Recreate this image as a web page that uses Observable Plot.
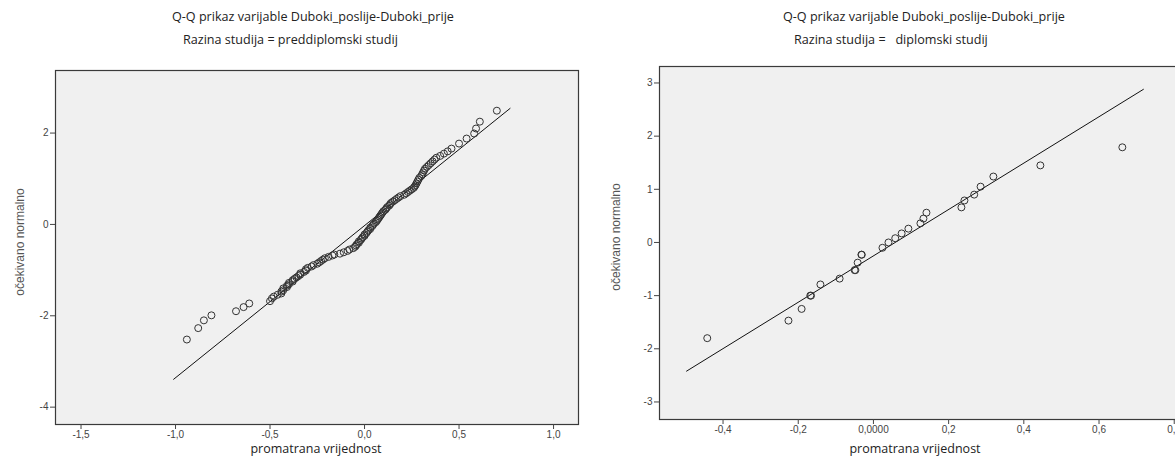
<!DOCTYPE html>
<html><head><meta charset="utf-8">
<script src="https://cdn.jsdelivr.net/npm/d3@7"></script>
<script src="https://cdn.jsdelivr.net/npm/@observablehq/plot@0.6"></script>
<style>
html,body{margin:0;padding:0;width:1175px;height:459px;overflow:hidden;background:#fff;}
#root{position:relative;width:1175px;height:459px;overflow:hidden;}
.t{position:absolute;font-family:"Open Sans",sans-serif;font-size:12.6px;color:#222;white-space:pre;line-height:1;}
.xl{position:absolute;font-family:"Open Sans",sans-serif;font-size:12.5px;color:#222;white-space:pre;line-height:1;transform:translateX(-50%);}
.yl{position:absolute;font-family:"Liberation Sans",Arial,sans-serif;font-size:12px;color:#555;white-space:pre;line-height:1;transform:translate(-50%,-50%) rotate(-90deg);}
.panel{position:absolute;}
</style></head>
<body><div id="root"></div>
<script>
// ---- data ----
const titleText = "Q-Q prikaz varijable Duboki_poslije-Duboki_prije";
const subtitleLeft = "Razina studija = preddiplomski studij";
const subtitleRight = "Razina studija =   diplomski studij";
const xAxisTitle = "promatrana vrijednost";
const yAxisTitle = "očekivano normalno";

// Panel 1: preddiplomski studij
const preddiplomskiObserved = [
 -0.94,-0.88,-0.85,-0.81,-0.68,-0.64,-0.61,-0.50,-0.49,-0.48,
 -0.46,-0.44,-0.44,-0.43,-0.43,-0.41,-0.41,-0.40,-0.40,-0.38,
 -0.38,-0.37,-0.36,-0.35,-0.34,-0.34,-0.32,-0.31,-0.31,-0.30,
 -0.28,-0.27,-0.25,-0.24,-0.23,-0.22,-0.21,-0.19,-0.17,-0.16,
 -0.13,-0.11,-0.09,-0.08,-0.06,-0.05,-0.045,-0.04,-0.03,-0.03,
 -0.02,-0.015,-0.01,0.00,0.00,0.01,0.015,0.02,0.03,0.03,
 0.04,0.045,0.05,0.06,0.065,0.07,0.075,0.08,0.085,0.09,
 0.095,0.10,0.11,0.115,0.12,0.13,0.135,0.14,0.15,0.16,
 0.17,0.18,0.19,0.21,0.22,0.23,0.24,0.25,0.26,0.265,
 0.27,0.275,0.28,0.285,0.29,0.30,0.305,0.31,0.315,0.32,
 0.33,0.34,0.35,0.36,0.37,0.38,0.40,0.42,0.44,0.46,
 0.50,0.54,0.58,0.59,0.61,0.70];
const preddiplomskiExpected = [
 -2.52,-2.27,-2.10,-1.99,-1.90,-1.81,-1.73,-1.68,-1.62,-1.58,
 -1.54,-1.51,-1.47,-1.44,-1.40,-1.37,-1.34,-1.31,-1.28,-1.25,
 -1.22,-1.19,-1.16,-1.13,-1.10,-1.07,-1.04,-1.01,-0.98,-0.95,
 -0.92,-0.89,-0.86,-0.83,-0.80,-0.77,-0.74,-0.71,-0.68,-0.66,
 -0.64,-0.61,-0.58,-0.55,-0.52,-0.49,-0.46,-0.43,-0.40,-0.37,
 -0.34,-0.31,-0.28,-0.25,-0.22,-0.19,-0.16,-0.13,-0.10,-0.07,
 -0.04,-0.01,0.02,0.05,0.08,0.11,0.14,0.17,0.20,0.23,
 0.26,0.29,0.32,0.35,0.38,0.41,0.44,0.47,0.50,0.53,
 0.56,0.59,0.62,0.65,0.68,0.71,0.74,0.77,0.80,0.83,
 0.86,0.90,0.94,0.98,1.02,1.06,1.10,1.14,1.18,1.22,
 1.26,1.30,1.34,1.38,1.42,1.46,1.50,1.55,1.60,1.66,
 1.77,1.88,1.99,2.10,2.25,2.49];
const preddiplomskiLineX = [-1.01, 0.77];
const preddiplomskiLineY = [-3.39, 2.54];
const leftXTicks = [-1.5, -1.0, -0.5, 0.0, 0.5, 1.0];
const leftXLabels = ["-1,5", "-1,0", "-0,5", "0,0", "0,5", "1,0"];
const leftYTicks = [-4, -2, 0, 2];
const leftYLabels = ["-4", "-2", "0", "2"];

// Panel 2: diplomski studij
const diplomskiObserved = [
 -0.442,-0.226,-0.191,-0.168,-0.166,-0.141,-0.090,-0.050,-0.048,-0.042,
 -0.032,-0.031,0.024,0.040,0.058,0.075,0.093,0.125,0.133,0.141,
 0.234,0.242,0.268,0.285,0.319,0.444,0.662];
const diplomskiExpected = [
 -1.80,-1.47,-1.25,-1.00,-1.00,-0.79,-0.68,-0.52,-0.52,-0.38,
 -0.23,-0.23,-0.10,0.00,0.08,0.17,0.26,0.36,0.45,0.56,
 0.66,0.79,0.90,1.05,1.24,1.45,1.79];
const diplomskiLineX = [-0.497, 0.718];
const diplomskiLineY = [-2.42, 2.88];
const rightXTicks = [-0.4, -0.2, 0.0, 0.2, 0.4, 0.6, 0.8];
const rightXLabels = ["-0,4", "-0,2", "0,0000", "0,2", "0,4", "0,6", "0,8"];
const rightYTicks = [-3, -2, -1, 0, 1, 2, 3];
const rightYLabels = ["-3", "-2", "-1", "0", "1", "2", "3"];

// ---- drawing ----
const root = document.getElementById("root");
function addText(cls, text, left, top) {
  const d = document.createElement("div");
  d.className = cls; d.textContent = text;
  d.style.left = left + "px"; d.style.top = top + "px";
  root.appendChild(d); return d;
}

function panel(opts) {
  const pts = opts.obs.map((x, i) => ({x, y: opts.exp[i]}));
  const ln = opts.lx.map((x, i) => ({x, y: opts.ly[i]}));
  const fmt = (ticks, labels) => d => labels[ticks.findIndex(t => Math.abs(t - d) < 1e-9)];
  const chart = Plot.plot({
    width: opts.width, height: opts.height,
    marginLeft: opts.ml, marginRight: opts.mr, marginTop: opts.mt, marginBottom: opts.mb,
    x: {domain: opts.xd},
    y: {domain: opts.yd},
    style: {fontFamily: "'Liberation Sans', Arial, sans-serif", fontSize: "10px", color: "#444", background: "transparent", overflow: "visible"},
    marks: [
      Plot.frame({fill: "#f0f0f0", stroke: null}),
      Plot.line(ln, {x: "x", y: "y", stroke: "#111", strokeWidth: 1}),
      Plot.dot(pts, {x: "x", y: "y", r: 3.5, stroke: "#333", strokeWidth: 1, fill: "none"}),
      Plot.frame({stroke: "#3a3a3a", strokeWidth: 1.2}),
      Plot.axisX({ticks: opts.xt, tickFormat: fmt(opts.xt, opts.xlab), tickSize: 5, tickPadding: 1, label: null, stroke: "#444"}),
      Plot.axisY({ticks: opts.yt, tickFormat: fmt(opts.yt, opts.ylab), tickSize: 5, tickPadding: 2, label: null, stroke: "#444"})
    ]
  });
  chart.classList.add("panel");
  chart.style.left = opts.left + "px";
  chart.style.top = opts.top + "px";
  root.appendChild(chart);
}

panel({left: 0, top: 60, width: 590, height: 399, ml: 55, mr: 12, mt: 10, mb: 35,
  xd: [-1.635, 1.132], yd: [-4.38, 3.37],
  obs: preddiplomskiObserved, exp: preddiplomskiExpected,
  lx: preddiplomskiLineX, ly: preddiplomskiLineY,
  xt: leftXTicks, xlab: leftXLabels, yt: leftYTicks, ylab: leftYLabels});

panel({left: 590, top: 56, width: 600, height: 403, ml: 69, mr: 5, mt: 10, mb: 40,
  xd: [-0.569, 0.830], yd: [-3.33, 3.31],
  obs: diplomskiObserved, exp: diplomskiExpected,
  lx: diplomskiLineX, ly: diplomskiLineY,
  xt: rightXTicks, xlab: rightXLabels, yt: rightYTicks, ylab: rightYLabels});

// titles
const t1 = addText("t", titleText, 0, 11);
t1.style.left = (313 - t1.offsetWidth / 2) + "px";
addText("t", subtitleLeft, t1.offsetLeft + 11, 34);
const t2 = addText("t", titleText, 0, 11);
t2.style.left = (924 - t2.offsetWidth / 2) + "px";
addText("t", subtitleRight, t2.offsetLeft + 11, 34);

// axis titles
addText("xl", xAxisTitle, 316, 443);
addText("xl", xAxisTitle, 915, 443);
addText("yl", yAxisTitle, 20, 242);
addText("yl", yAxisTitle, 616, 237);
</script>
</body></html>
